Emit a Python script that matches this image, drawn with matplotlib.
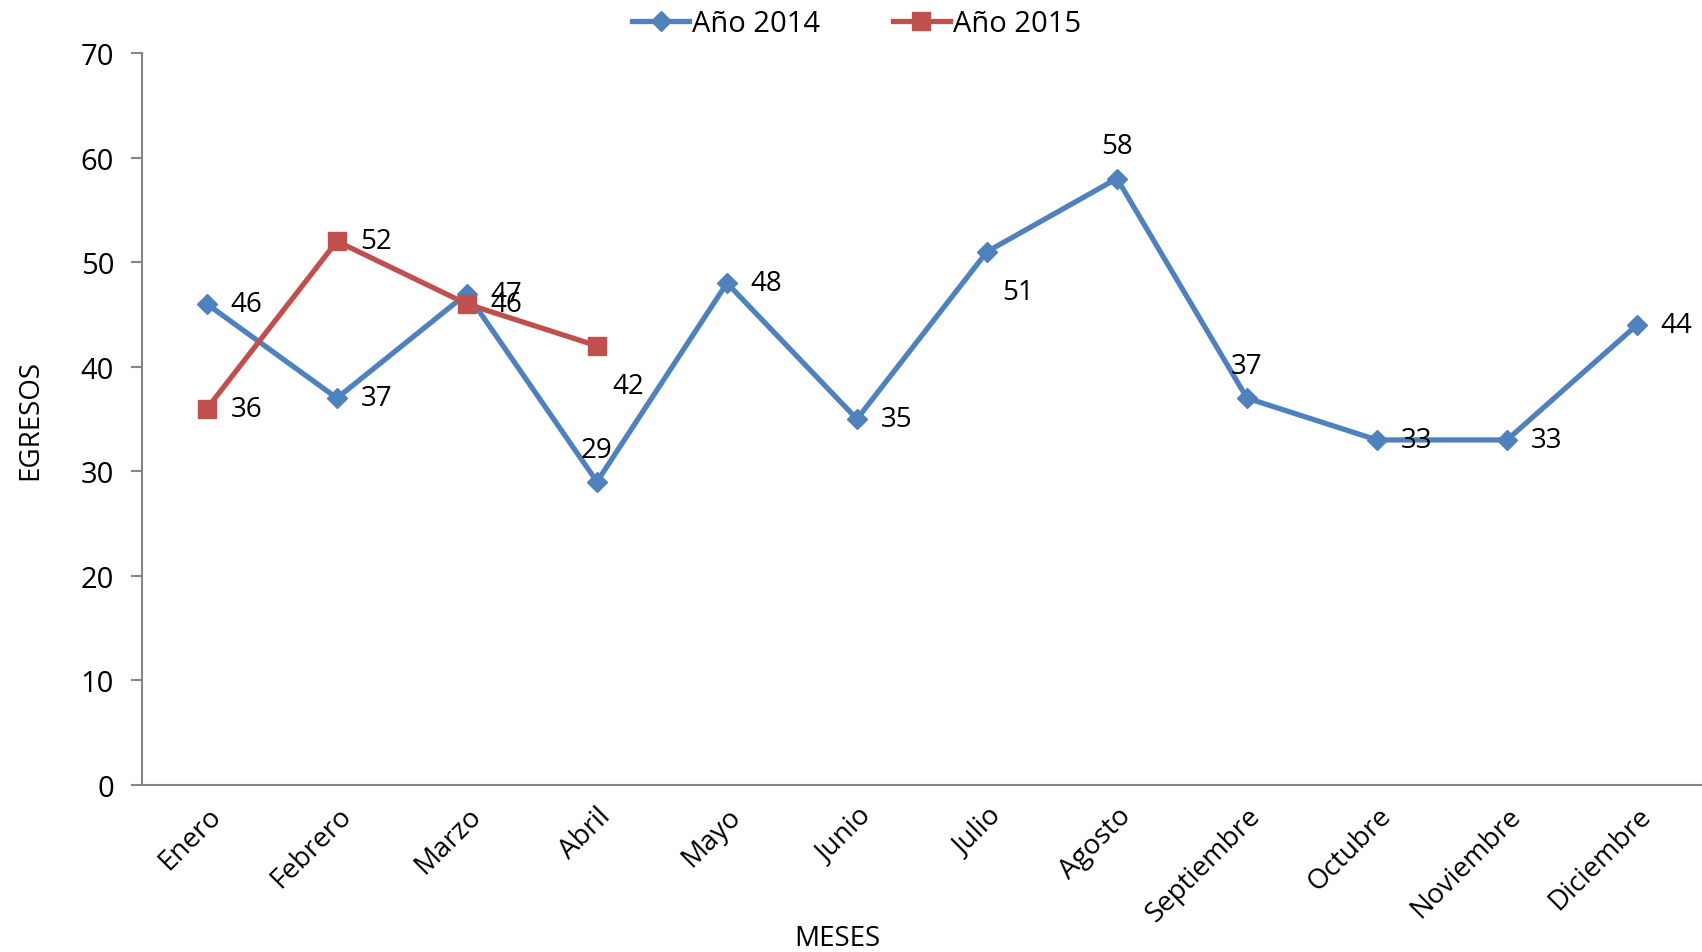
import matplotlib.pyplot as plt

plt.rcParams['font.family'] = ['Open Sans', 'DejaVu Sans']

meses = ['Enero', 'Febrero', 'Marzo', 'Abril', 'Mayo', 'Junio', 'Julio',
         'Agosto', 'Septiembre', 'Octubre', 'Noviembre', 'Diciembre']
egresos_2014 = [46, 37, 47, 29, 48, 35, 51, 58, 37, 33, 33, 44]
egresos_2015 = [36, 52, 46, 42]

blue = '#4F81BD'
red = '#C0504D'

# where each data label sits relative to its point: r=right, a=above, b=below-right
pos_2014 = ['r', 'r', 'r', 'a', 'r', 'r', 'b', 'a', 'a', 'r', 'r', 'r']
pos_2015 = ['r', 'r', 'r', 'b']

fig = plt.figure(figsize=(17.02, 9.53), dpi=100)
ax = fig.add_axes([0.0834, 0.1752, 0.9166, 0.7681])

x = list(range(len(meses)))
ax.plot(x, egresos_2014, color=blue, lw=3.8, marker='D', ms=10,
        label='Año 2014', zorder=3)
ax.plot(x[:len(egresos_2015)], egresos_2015, color=red, lw=3.8, marker='s',
        ms=13, label='Año 2015', zorder=4)


def add_labels(xs, ys, where):
    for xi, yi, w in zip(xs, ys, where):
        if w == 'r':
            off, ha, va = (17, 0), 'left', 'center'
        elif w == 'a':
            off, ha, va = (0, 13), 'center', 'bottom'
        else:
            off, ha, va = (11, -29), 'left', 'center'
        ax.annotate(str(yi), (xi, yi), xytext=off, textcoords='offset points',
                    ha=ha, va=va, fontsize=20, zorder=5)


add_labels(x, egresos_2014, pos_2014)
add_labels(x[:len(egresos_2015)], egresos_2015, pos_2015)

ax.set_xlim(-0.5, len(meses) - 0.5)
ax.set_ylim(0, 70)
ax.set_yticks(range(0, 71, 10))
ax.set_xticks(x)
ax.set_xticklabels(meses, rotation=45, ha='right', rotation_mode='anchor',
                   fontsize=20)
ax.tick_params(axis='y', labelsize=21, length=8, width=1.5, color='#868686',
               pad=12)
ax.tick_params(axis='x', length=0, pad=12)

for side in ['top', 'right']:
    ax.spines[side].set_visible(False)
for side in ['left', 'bottom']:
    ax.spines[side].set_color('#868686')
    ax.spines[side].set_linewidth(1.5)

ax.set_xlabel('MESES', fontsize=20, labelpad=2)
ax.xaxis.set_label_coords(0.446, -0.19)
ax.set_ylabel('EGRESOS', fontsize=20, labelpad=26)

ax.legend(loc='lower center', bbox_to_anchor=(0.458, 1.005), ncol=2,
          frameon=False, fontsize=21, handlelength=1.95, handletextpad=0.1,
          columnspacing=2.5, borderaxespad=0)

fig.savefig('out.png', dpi=100)
plt.close(fig)
